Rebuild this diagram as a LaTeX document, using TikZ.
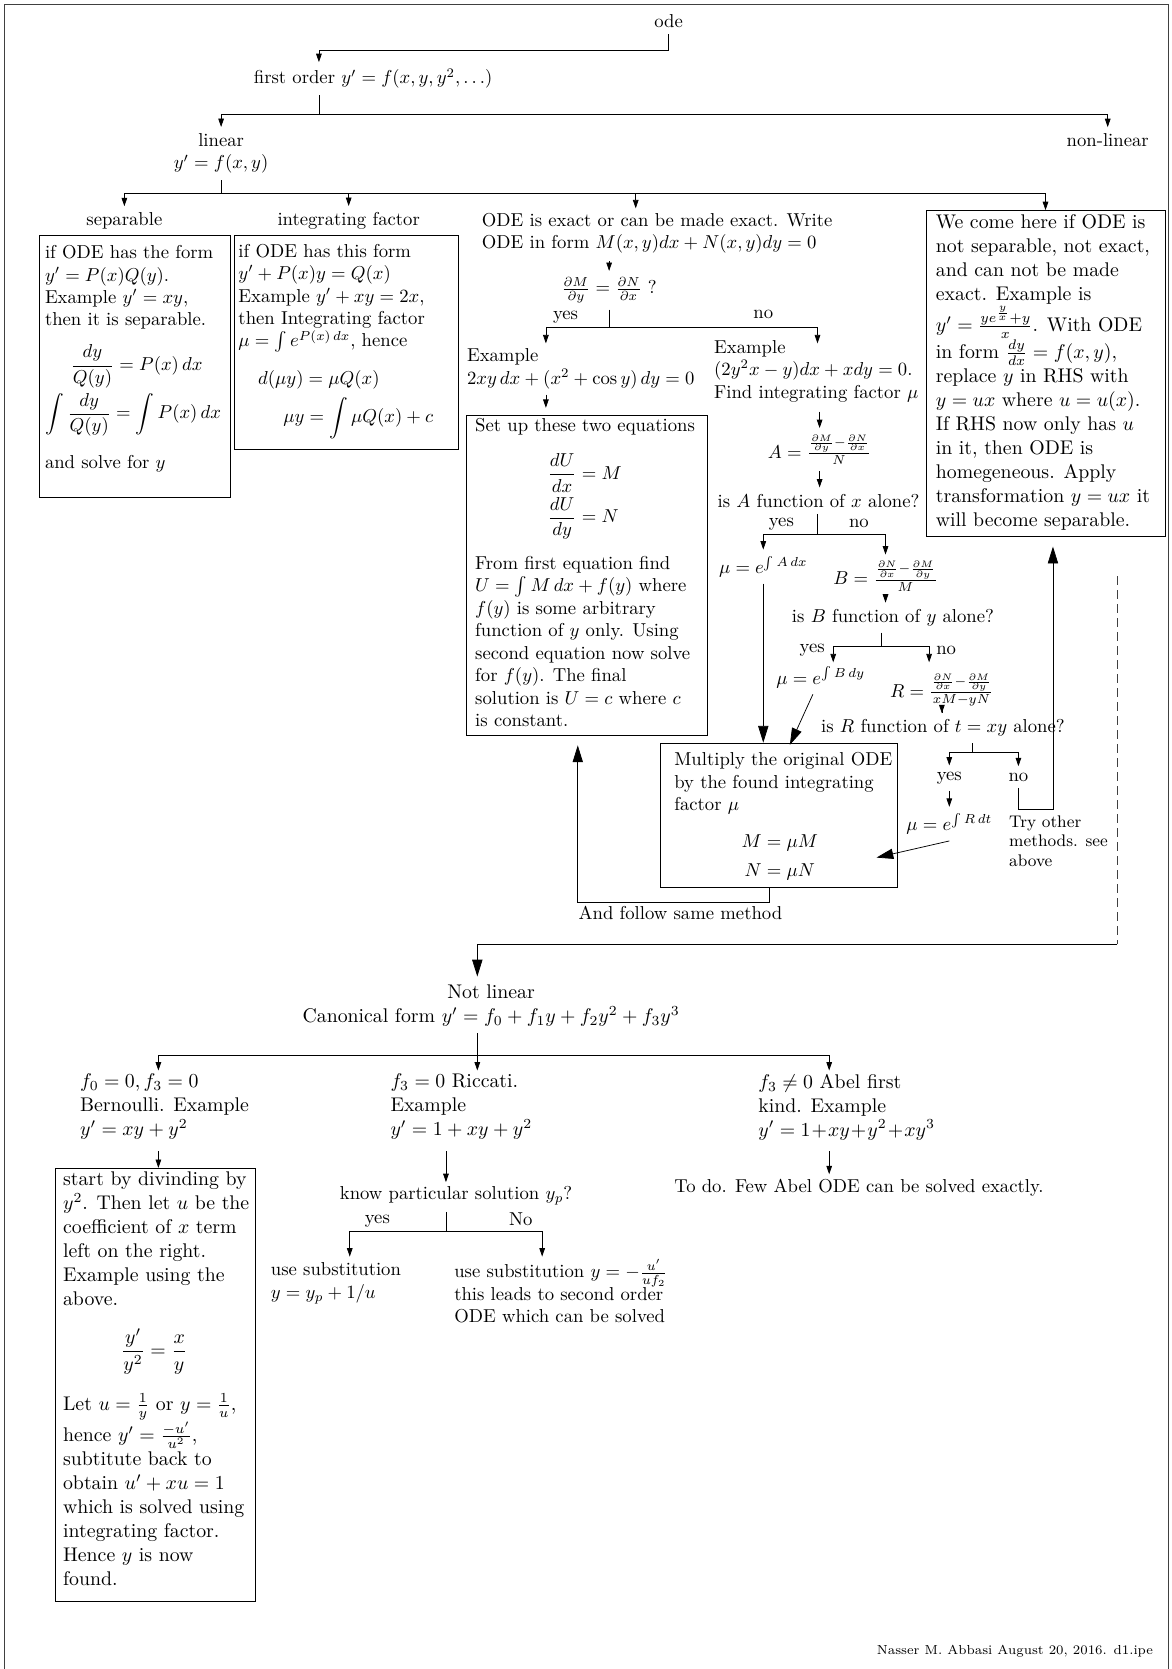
\RequirePackage{fix-cm}
\documentclass[tikz,border=0pt]{standalone}
\usepackage{amsmath}
\usepackage{tikz}
\usetikzlibrary{arrows.meta, fit}
\tikzstyle{para} = [inner sep=0pt, align=left, anchor=north west]
\tikzstyle{eqn} = [inner sep=0pt]
\tikzstyle{bigfont} = [font=\fontsize{10.6}{12.85}\selectfont]
\tikzstyle{notefont} = [font=\fontsize{9}{10.4}\selectfont]
\tikzstyle{frame} = [draw, inner sep=0pt]
\tikzstyle{arrow} = [-{Triangle[length=4.5pt,width=3pt]}]
\tikzstyle{bigarrow} = [-{Triangle[length=9pt,width=5.5pt]}]
\begin{document}
\begin{tikzpicture}[x=0.02cm,y=-0.02cm]
            \useasboundingbox (0,0) rectangle (1102,1570);
            \draw[black!75] (4,1570) -- (4,4) -- (1099,4) -- (1099,1570);

            \node (ode) at (629,20) {ode};
            \node (first) at (351,74) {first order $y'=f(x,y,y^2,\ldots)$};
            \node[align=center] (linear) at (208,144.5) {linear\\$y'=f(x,y)$};
            \node (nonlin) at (1042,132) {non-linear};
            \node (separ) at (117,208) {separable};
            \node (intfac) at (328,208) {integrating factor};

            \node[frame, fit={(37,221)(217,468)}] (sepbox) {};
            \node[para] (septxt) at (42,230.6) {if ODE has the form\\$y'=P(x)Q(y)$.\\Example $y'=xy$,\\then it is separable.};
            \node[eqn] (sepeq1) at (128.5,344.8) {$\displaystyle\frac{dy}{Q(y)}=P(x)\,dx$};
            \node[eqn] (sepeq2) at (125.4,390.3) {$\displaystyle\int\frac{dy}{Q(y)}=\int P(x)\,dx$};
            \node[eqn, anchor=west] (sepend) at (42,436) {and solve for $y$};

            \node[frame, fit={(220,221)(431,423)}] (intbox) {};
            \node[para] (inttxt) at (224,229.2) {if ODE has this form\\$y'+P(x)y=Q(x)$\\Example $y'+xy=2x$,\\then Integrating factor\\$\mu=\int e^{P(x)\,dx}$, hence};
            \node[eqn] (inteq1) at (300,357.4) {$d(\mu y)=\mu Q(x)$};
            \node[eqn] (inteq2) at (337,393.4) {$\displaystyle\mu y=\int\mu Q(x)+c$};

            \node[para] (exact) at (453,200) {ODE is exact or can be made exact. Write\\ODE in form $M(x,y)dx+N(x,y)dy=0$};
            \node (exq) at (573,273) {$\frac{\partial M}{\partial y}=\frac{\partial N}{\partial x}$ ?};
            \node (exyes) at (532,298) {yes};
            \node (exno) at (718,296) {no};
            \node[para] (exleft) at (439,327.6) {Example\\$2xy\,dx+(x^2+\cos y)\,dy=0$};
            \node[para] (exright) at (671.5,319.8) {Example\\$(2y^2x-y)dx+xdy=0$.\\Find integrating factor $\mu$};

            \node[frame, fit={(439,391)(665,692)}] (setbox) {};
            \node[eqn, anchor=west] (settitle) at (446.7,401) {Set up these two equations};
            \node[eqn, anchor=west] (seteq1) at (514.8,445) {$\displaystyle\frac{dU}{dx}=M$};
            \node[eqn, anchor=west] (seteq2) at (514.8,487.5) {$\displaystyle\frac{dU}{dy}=N$};
            \node[para] (settxt) at (446.7,523) {From first equation find\\$U=\int M\,dx+f(y)$ where\\$f(y)$ is some arbitrary\\function of $y$ only. Using\\second equation now solve\\for $f(y)$. The final\\solution is $U=c$ where $c$\\is constant.};

            \node (Aeq) at (771,423) {$A=\frac{\frac{\partial M}{\partial y}-\frac{\partial N}{\partial x}}{N}$};
            \node (Aq) at (770,471) {is $A$ function of $x$ alone?};
            \node (Ayes) at (735,493) {yes};
            \node (Ano) at (808,492) {no};
            \node (muA) at (718,533) {$\mu=e^{\int A\,dx}$};
            \node (Beq) at (833,542) {$B=\frac{\frac{\partial N}{\partial x}-\frac{\partial M}{\partial y}}{M}$};
            \node (Bq) at (840,581) {is $B$ function of $y$ alone?};
            \node (Byes) at (764,612) {yes};
            \node (Bno) at (890,612) {no};
            \node (muB) at (772,637) {$\mu=e^{\int B\,dy}$};
            \node (Req) at (886,649) {$R=\frac{\frac{\partial N}{\partial x}-\frac{\partial M}{\partial y}}{xM-yN}$};
            \node (Rq) at (887,685) {is $R$ function of $t=xy$ alone?};
            \node (Ryes) at (893,732) {yes};
            \node (Rno) at (958,731) {no};
            \node (muR) at (893,775) {$\mu=e^{\int R\,dt}$};
            \node[para, notefont] (tryother) at (949,766.8) {Try other\\methods. see\\above};

            \node[frame, fit={(621,699)(844,835)}] (multbox) {};
            \node[para] (multtxt) at (634,707.6) {Multiply the original ODE\\by the found integrating\\factor $\mu$};
            \node[eqn] (multM) at (733.6,793) {$M=\mu M$};
            \node[eqn] (multN) at (733.6,819.8) {$N=\mu N$};
            \node[eqn, anchor=west] (follow) at (544,859) {And follow same method};

            \node[frame, fit={(871,198)(1096,505)}] (homobox) {};
            \node[para, bigfont] (homotxt) at (880,201.5) {We come here if ODE is\\not separable, not exact,\\and can not be made\\exact. Example is\\$y'=\frac{ye^{\frac{y}{x}}+y}{x}$. With ODE\\in form $\frac{dy}{dx}=f(x,y)$,\\replace $y$ in RHS with\\$y=ux$ where $u=u(x)$.\\If RHS now only has $u$\\in it, then ODE is\\homegeneous. Apply\\transformation $y=ux$ it\\will become separable.};

            \node[bigfont, align=center] (notlin) at (462,946) {Not linear\\Canonical form $y'=f_0+f_1y+f_2y^2+f_3y^3$};
            \node[para, bigfont] (bern) at (75,1009.8) {$f_0=0, f_3=0$\\Bernoulli. Example\\$y'=xy+y^2$};
            \node[para, bigfont] (ricc) at (367,1009.8) {$f_3=0$ Riccati.\\Example\\$y'=1+xy+y^2$};
            \node[para, bigfont] (abel) at (713,1009.8) {$f_3\neq 0$ Abel first\\kind. Example\\$y'=1\!+\!xy\!+\!y^2\!+\!xy^3$};

            \node[frame, fit={(52,1099)(240,1506)}] (bernbox) {};
            \node[para, bigfont] (berntxt) at (59,1102) {start by divinding by\\$y^2$. Then let $u$ be the\\coefficient of $x$ term\\left on the right.\\Example using the\\above.};
            \node[eqn, bigfont] (berneq) at (145,1271) {$\displaystyle\frac{y'}{y^2}=\frac{x}{y}$};
            \node[para, bigfont] (berntxt2) at (59,1311) {Let $u=\frac{1}{y}$ or $y=\frac{1}{u}$,\\hence $y'=\frac{-u'}{u^2}$,\\subtitute back to\\obtain $u'+xu=1$\\which is solved using\\integrating factor.\\Hence $y$ is now\\found.};

            \node (know) at (429,1125) {know particular solution $y_p$?};
            \node (Kyes) at (355,1149) {yes};
            \node (Kno) at (490,1147) {No};
            \node[para] (subyes) at (254.5,1187.6) {use substitution\\$y=y_p+1/u$};
            \node[para] (subno) at (427,1184.7) {use substitution $y=-\frac{u'}{uf_2}$\\this leads to second order\\ODE which can be solved};
            \node (todo) at (808,1117) {To do. Few Abel ODE can be solved exactly.};
            \node[eqn, anchor=east, font=\scriptsize] (footer) at (1085,1553) {Nasser M. Abbasi August 20, 2016. d1.ipe};

            \coordinate (k1) at (300,47);
            \coordinate (k2) at (300,108);
            \coordinate (k3) at (208,182);
            \coordinate (exIn) at (598,196);
            \coordinate (k4) at (573,308);
            \coordinate (exlIn) at (513.5,323);
            \coordinate (exrIn) at (769,323);
            \coordinate (k5) at (769,503);
            \coordinate (k6) at (829,608);
            \coordinate (muBIn) at (783.8,623);
            \coordinate (RIn) at (874,623);
            \coordinate (k7) at (915,708);
            \coordinate (multRIn) at (824.5,806.7);
            \coordinate (multBIn) at (743,700.7);
            \coordinate (k8) at (990.5,761);
            \coordinate (k9) at (543.5,849);
            \coordinate (k10) at (724,849);
            \coordinate (d1) at (1051,542);
            \coordinate (d2) at (1051,888);
            \coordinate (nlIn) at (449,918.6);
            \coordinate (k11) at (449,993);
            \coordinate (bIn) at (149,1007);
            \coordinate (rIn) at (449,1007);
            \coordinate (aIn) at (780,1007);
            \coordinate (kIn) at (419.5,1112);
            \coordinate (k12) at (419.5,1158);
            \coordinate (yIn) at (329,1182);
            \coordinate (nIn) at (510,1182);
            \coordinate (tIn) at (780,1104.6);

            \draw[arrow] (ode) |- (k1) -- (k1 |- first.north);
            \draw (k2 |- first.south) -- (k2);
            \draw[arrow] (k2) -| (linear);
            \draw[arrow] (k2) -| (nonlin);
            \draw (linear) -- (k3);
            \draw[arrow] (k3) -| (separ);
            \draw[arrow] (k3) -| (intfac);
            \draw[arrow] (k3) -| (exIn);
            \draw[arrow] (k3) -| (homobox);
            \draw[arrow, shorten <=4pt] (exact.south -| exq) -- (exq);
            \draw (exq) -- (k4);
            \draw[arrow] (k4) -| (exlIn);
            \draw[arrow] (k4) -| (exrIn);
            \draw[arrow, shorten <=3pt, shorten >=4pt] (exleft.south -| exlIn) -- (exlIn |- setbox.north);
            \draw[arrow, shorten <=5pt] (exright.south -| Aeq) -- (Aeq);
            \draw[arrow] (Aeq) -- (Aeq |- Aq.north);
            \draw (Aq.south -| k5) -- (k5);
            \draw[arrow] (k5) -| (muA);
            \draw[arrow] (k5) -| (Beq);
            \draw[arrow] (Beq) -- (Beq |- Bq.north);
            \draw (Bq.south -| k6) -- (k6);
            \draw[arrow] (k6) -| (muBIn);
            \draw[arrow] (k6) -| (RIn);
            \draw[arrow] (Req) -- (Req |- Rq.north);
            \draw (Rq.south -| k7) -- (k7);
            \draw[arrow] (k7) -| (Ryes);
            \draw[arrow] (k7) -| (Rno);
            \draw[arrow] (Ryes) -- (Ryes |- muR.north);
            \draw[bigarrow] (muR.south) -- (multRIn);
            \draw[bigarrow, shorten >=5pt] (Rno) |- (k8) -- (k8 |- homobox.south);
            \draw[bigarrow] (muA) -- (muA |- multbox.north);
            \draw[bigarrow] (muB) -- (multBIn);
            \draw[bigarrow, shorten >=5pt] (k10 |- multbox.south) -- (k10) -- (k9) -- (k9 |- setbox.south);
            \draw[black!75, dash pattern=on 4.5pt off 3pt] (d1) -- (d2);
            \draw[bigarrow] (d2) -| (nlIn);
            \draw[arrow] (notlin.south -| k11) -- (rIn);
            \draw[arrow] (k11) -| (bIn);
            \draw[arrow] (k11) -| (aIn);
            \draw[arrow, shorten <=6pt] (bern.south -| bIn) -- (bIn |- bernbox.north);
            \draw[arrow, shorten <=6pt] (ricc.south -| kIn) -- (kIn);
            \draw (know.south -| k12) -- (k12);
            \draw[arrow] (k12) -| (yIn);
            \draw[arrow] (k12) -| (nIn);
            \draw[arrow, shorten <=6pt] (abel.south -| tIn) -- (tIn);

        \end{tikzpicture}
\end{document}
